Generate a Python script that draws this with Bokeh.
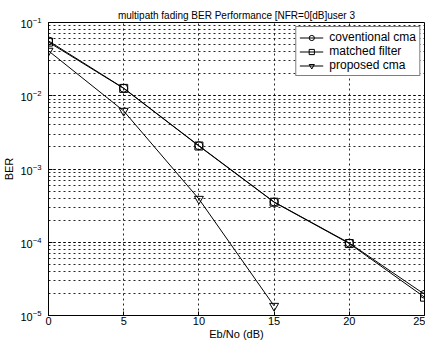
from bokeh.plotting import figure
from bokeh.models import FixedTicker, Range1d, Legend, LegendItem
from bokeh.embed import file_html
from bokeh.resources import INLINE

ebno = [0, 5, 10, 15, 20, 25]
conv_cma = [0.056, 0.0127, 0.00208, 0.000355, 0.0000975, 0.0000195]
matched = [0.054, 0.0126, 0.00206, 0.000352, 0.000096, 0.0000178]
ebno_prop = [0, 5, 10, 15]
proposed = [0.041, 0.0062, 0.00039, 0.0000135]

x_ticks = [0, 5, 10, 15, 20, 25]

FONT = "Liberation Sans"

p = figure(width=425, height=342, y_axis_type="log",
           x_range=Range1d(0, 25), y_range=Range1d(1e-5, 1e-1),
           output_backend="svg", toolbar_location=None,
           min_border_left=39, min_border_right=1, min_border_top=22, min_border_bottom=18,
           title="multipath fading BER Performance [NFR=0[dB]user 3")

p.title.align = "center"
p.title.text_font = FONT
p.title.text_font_size = "10px"
p.title.text_font_style = "normal"
p.title.text_color = "black"
p.title.standoff = 4

p.outline_line_color = "black"
p.outline_line_width = 1
p.background_fill_color = "white"
p.border_fill_color = "white"

p.xaxis.ticker = FixedTicker(ticks=x_ticks)
p.yaxis.ticker.num_minor_ticks = 10

for ax in (p.xaxis, p.yaxis):
    ax.axis_line_color = "black"
    ax.major_tick_line_color = "black"
    ax.major_tick_in = 4
    ax.major_tick_out = 0
    ax.minor_tick_line_color = None
    ax.major_label_text_font = FONT
    ax.major_label_text_font_size = "11px"
    ax.major_label_text_color = "black"
    ax.axis_label_text_font = FONT
    ax.axis_label_text_font_size = "11px"
    ax.axis_label_text_font_style = "normal"
    ax.axis_label_text_color = "black"
    ax.major_label_standoff = 3
    ax.axis_label_standoff = 2

p.xaxis.major_label_standoff = 1
p.xaxis.axis_label_standoff = 0

p.xaxis.axis_label = "Eb/No (dB)"
p.yaxis.axis_label = "BER"

p.xgrid.grid_line_color = "black"
p.xgrid.grid_line_dash = "2 3"
p.xgrid.grid_line_width = 1
p.ygrid.grid_line_color = "black"
p.ygrid.grid_line_dash = "2 3"
p.ygrid.minor_grid_line_color = "black"
p.ygrid.minor_grid_line_dash = "2 3"
p.xgrid.grid_line_alpha = 0.85
p.ygrid.grid_line_alpha = 0.85
p.ygrid.minor_grid_line_alpha = 0.85

l1 = p.line(ebno, conv_cma, line_color="black", line_width=1)
m1 = p.scatter(ebno, conv_cma, marker="circle", size=8, line_color="black", fill_color=None)
l2 = p.line(ebno, matched, line_color="black", line_width=1)
m2 = p.scatter(ebno, matched, marker="square", size=8, line_color="black", fill_color=None)
l3 = p.line(ebno_prop, proposed, line_color="black", line_width=1)
m3 = p.scatter(ebno_prop, proposed, marker="inverted_triangle", size=9, line_color="black", fill_color=None)

legend = Legend(items=[
    LegendItem(label="coventional cma", renderers=[l1, m1]),
    LegendItem(label="matched filter", renderers=[l2, m2]),
    LegendItem(label="proposed cma", renderers=[l3, m3]),
], location="top_right")
legend.label_text_font = FONT
legend.label_text_font_size = "12px"
legend.label_text_color = "black"
legend.border_line_color = "black"
legend.border_line_width = 1
legend.background_fill_color = "white"
legend.background_fill_alpha = 1
legend.margin = 4
legend.padding = 3
legend.spacing = 0
legend.label_height = 13
legend.glyph_height = 13
legend.glyph_width = 24
legend.label_standoff = 6
p.add_layout(legend)

open("out.html", "w").write(file_html(p, INLINE))
